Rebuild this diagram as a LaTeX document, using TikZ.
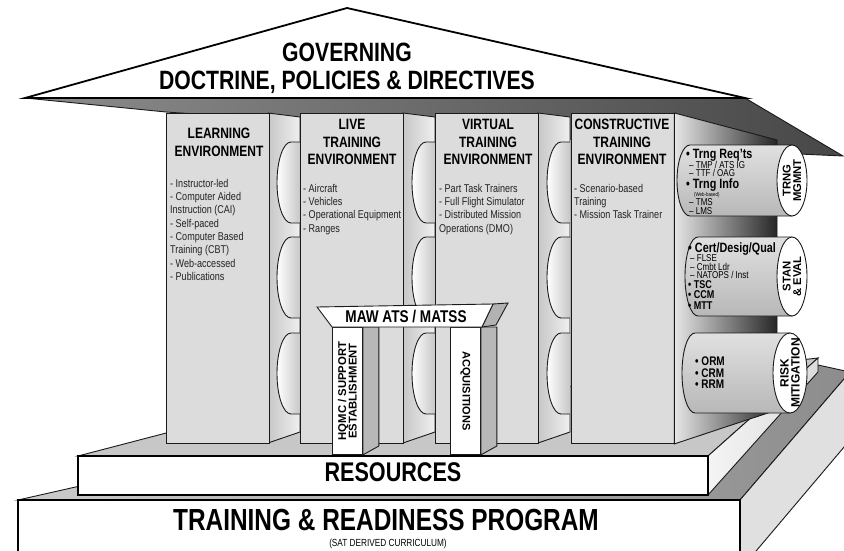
\documentclass[tikz,border=0pt]{standalone}
\usepackage{fontspec}
\setmainfont{Liberation Sans}[FakeStretch=0.8]
\newfontfamily\plainsans{Liberation Sans}
\definecolor{ink}{HTML}{1A1A1A}
\definecolor{pillargray}{HTML}{DCDCDC}
\definecolor{itemink}{HTML}{222222}

\begin{document}
\begin{tikzpicture}[x=1pt,y=-1pt,
  point/.style={coordinate},
  edge/.style={draw=ink, line width=0.9pt},
  heavy/.style={draw=black, line width=1.8pt},
  pillar/.style={edge, fill=pillargray, minimum width=102.5pt, minimum height=330pt, anchor=north west, inner sep=0pt},
  post/.style={edge, fill=white, minimum width=30pt, minimum height=127pt, anchor=north west, inner sep=0pt},
  heading/.style={font=\fontsize{15}{17.5}\selectfont\bfseries, align=center, anchor=north, inner sep=0pt},
  itemlist/.style={font=\fontsize{11.3}{13.3}\selectfont, text=itemink, align=left, anchor=north west, inner sep=0pt},
  bullet/.style={font=\fontsize{13.5}{13.5}\selectfont\bfseries, anchor=base west, inner sep=0pt},
  smallbullet/.style={font=\fontsize{11.3}{11}\selectfont\bfseries, anchor=base west, inner sep=0pt},
  subitem/.style={font=\fontsize{10}{9}\selectfont, anchor=base west, inner sep=0pt},
  sidetext/.style={font=\plainsans\fontsize{11.3}{10.5}\selectfont\bfseries, align=center, inner sep=0pt}]
\useasboundingbox (0,0) rectangle (844,551);
\clip (0,0) rectangle (844,551);

% roof points
\node[point] (r0) at (25,98) {};
\node[point] (r1) at (347,8) {};
\node[point] (r2) at (745,98) {};
\node[point] (r3) at (843,156) {};
\node[point] (r4) at (777,153) {};
\node[point] (r5) at (166,112) {};
\draw[edge, left color=black!45, right color=black!72] (r0) -- (r2) -- (r3) -- (r4) -- (r5) -- cycle;

% base steps
\node[point] (t0) at (18,500) {};
\node[point] (t1) at (740,500) {};
\node[point] (t2) at (850,372) {};
\node[point] (t3) at (818,365) {};
\node[point] (t4) at (80,486) {};
\node[point] (t5) at (850,440) {};
\node[point] (t6) at (740,570) {};
\node[point] (t7) at (18,570) {};
\draw[edge, left color=black!20, right color=black!45] (t0) -- (t1) -- (t2) -- (t3) -- (t4) -- cycle;
\draw[edge, fill=black!12] (t1) -- (t2) -- (t5) -- (t6) -- cycle;
\draw[heavy, fill=white] (t0) -- (t1) -- (t6) -- (t7) -- cycle;
\node[point] (s0) at (78,456) {};
\node[point] (s1) at (708,456) {};
\node[point] (s2) at (818,358) {};
\node[point] (s3) at (170,432) {};
\node[point] (s4) at (818,372) {};
\node[point] (s5) at (708,495) {};
\node[point] (s6) at (78,495) {};
\draw[edge, fill=black!22] (s0) -- (s1) -- (s2) -- (s3) -- cycle;
\draw[edge, left color=black!4, right color=black!14] (s1) -- (s2) -- (s4) -- (s5) -- cycle;
\draw[heavy, fill=white] (s0) -- (s1) -- (s5) -- (s6) -- cycle;

% side faces and drums between the columns
\foreach \xr in {268,403,538}{
  \draw[edge, left color=black!22, right color=black!6] (\xr,113) -- (\xr+32,117) -- (\xr+32,432) -- (\xr,443) -- cycle;
  \foreach \yc in {182.5,277.5,373.5}
    \draw[edge, left color=white, right color=black!22] (\xr+32,\yc-40.5) -- (\xr+23,\yc-40.5)
      arc[start angle=270, end angle=90, x radius=14, y radius=40.5] -- (\xr+32,\yc+40.5);
}

% columns
\node[pillar] (learn) at (166,113) {};
\node[pillar] (live) at (300,113) {};
\node[pillar] (virt) at (435,113) {};
\node[pillar] (cons) at (571,113) {};
\draw[edge, left color=black!10, right color=black!85] (cons.north east) -- (777,140) -- (777,410) -- (cons.south east) -- cycle;

% drums on the right
\foreach \cl/\cr/\cy/\ry/\er in {690/792/180.5/35.5/15, 698/792/276.5/39.5/15, 695/790/373/40/17}{
  \draw[edge, top color=black!12, middle color=white, bottom color=black!28] (\cr,\cy-\ry) -- (\cl,\cy-\ry)
    arc[start angle=270, end angle=90, x radius=13, y radius=\ry] -- (\cr,\cy+\ry) -- cycle;
  \draw[edge, fill=white] (\cr,\cy) ellipse [x radius=\er, y radius=\ry];
}

% headings and lists
\node[heading] (learnhead) at (219,128) {LEARNING\\ENVIRONMENT};
\node[heading] (livehead) at (352,119) {LIVE\\TRAINING\\ENVIRONMENT};
\node[heading] (virthead) at (488,119) {VIRTUAL\\TRAINING\\ENVIRONMENT};
\node[heading] (conshead) at (622,119) {CONSTRUCTIVE\\TRAINING\\ENVIRONMENT};
\node[itemlist] (learnitems) at (170,179) {- Instructor-led\\- Computer Aided\\Instruction (CAI)\\- Self-paced\\- Computer Based\\Training (CBT)\\- Web-accessed\\- Publications};
\node[itemlist] (liveitems) at (303,184) {- Aircraft\\- Vehicles\\- Operational Equipment\\- Ranges};
\node[itemlist] (virtitems) at (439,184) {- Part Task Trainers\\- Full Flight Simulator\\- Distributed Mission\\Operations (DMO)};
\node[itemlist] (consitems) at (574,184) {- Scenario-based\\Training\\- Mission Task Trainer};

% drum texts
\node[bullet] (reqts) at (686,158) {• Trng Req'ts};
\node[subitem] (tmp) at (689,168) {– TMP / ATS IG};
\node[subitem] (ttf) at (689,176.5) {– TTF / OAG};
\node[bullet] (info) at (686,188) {• Trng Info};
\node[subitem, font=\fontsize{5.5}{5.5}\selectfont] (web) at (694,196) {(Web-based)};
\node[subitem] (tms) at (689,205) {– TMS};
\node[subitem] (lms) at (689,214) {– LMS};
\node[bullet] (cert) at (688,252) {• Cert/Desig/Qual};
\node[subitem] (flse) at (690,261.5) {– FLSE};
\node[subitem] (cmbt) at (690,270) {– Cmbt Ldr};
\node[subitem] (natops) at (690,278.5) {– NATOPS / Inst};
\node[smallbullet] (tsc) at (688,288) {• TSC};
\node[smallbullet] (ccm) at (688,298.5) {• CCM};
\node[smallbullet] (mtt) at (688,309) {• MTT};
\node[smallbullet, font=\fontsize{12.5}{12}\selectfont\bfseries] (orm) at (695,365.5) {• ORM};
\node[smallbullet, font=\fontsize{12.5}{12}\selectfont\bfseries] (crm) at (695,377) {• CRM};
\node[smallbullet, font=\fontsize{12.5}{12}\selectfont\bfseries] (rrm) at (695,388.5) {• RRM};
\node[sidetext, rotate=90] (mgmt) at (792,180.5) {TRNG\\MGMNT};
\node[sidetext, rotate=90] (staneval) at (792,276.5) {STAN\\\& EVAL};
\node[sidetext, rotate=90, font=\plainsans\fontsize{12}{11}\selectfont\bfseries] (risk) at (790,373) {RISK\\MITIGATION};

% MAW arch
\node[point] (m0) at (317,307) {};
\node[point] (m1) at (493,304) {};
\node[point] (m2) at (482,327) {};
\node[point] (m3) at (332,327) {};
\node[point] (m4) at (508,303) {};
\node[point] (m5) at (496,325) {};
\node[post] (hqmc) at (332,327) {};
\node[post] (acq) at (450,327) {};
\draw[edge, fill=black!28] (hqmc.north east) -- ++(16,0) -- ++(0,119) -- (hqmc.south east) -- cycle;
\draw[edge, fill=black!28] (acq.north east) -- ++(16,0) -- ++(0,119) -- (acq.south east) -- cycle;
\draw[edge, fill=black!30] (m1) -- (m4) -- (m5) -- (m2) -- cycle;
\draw[edge, fill=white] (m0) -- (m1) -- (m2) -- (m3) -- cycle;
\node[font=\fontsize{17}{17}\selectfont\bfseries, inner sep=0pt] (maw) at (406,317) {MAW ATS / MATSS};
\node[sidetext, rotate=90] (hqmctext) at (hqmc.center) {HQMC / SUPPORT\\ESTABLISHMENT};
\node[sidetext, rotate=-90, font=\plainsans\fontsize{11}{11}\selectfont\bfseries] (acqtext) at (acq.center) {ACQUISITIONS};

% roof front
\draw[heavy, fill=white] (r0) -- (r1) -- (r2) -- cycle;
\node[font=\fontsize{26.5}{28}\selectfont\bfseries, align=center, anchor=north, inner sep=0pt] (govern) at (347,42.5) {GOVERNING\\DOCTRINE, POLICIES \& DIRECTIVES};

% base texts
\node[font=\fontsize{27}{27}\selectfont\bfseries, inner sep=0pt] (resources) at (393,472) {RESOURCES};
\node[font=\fontsize{30.5}{30.5}\selectfont\bfseries, inner sep=0pt] (trprog) at (386,520) {TRAINING \& READINESS PROGRAM};
\node[font=\fontsize{10.3}{10.3}\selectfont, inner sep=0pt] (satline) at (388,543.5) {(SAT DERIVED CURRICULUM)};
\end{tikzpicture}
\end{document}
